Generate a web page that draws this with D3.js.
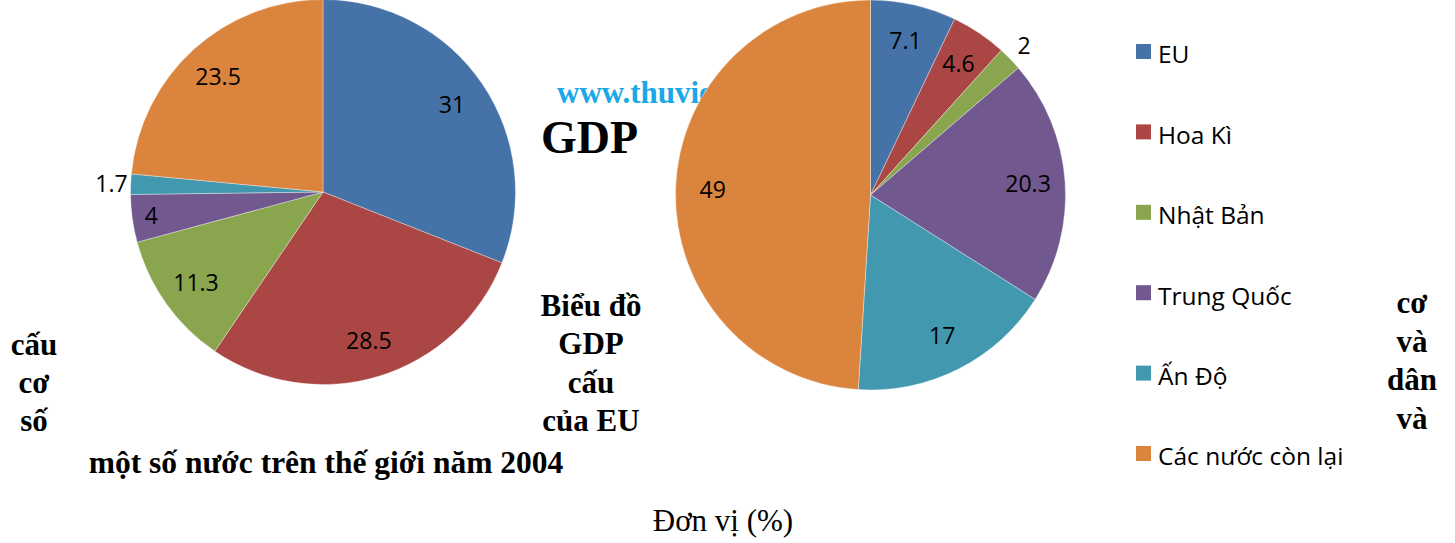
<!DOCTYPE html>
<html>
<head>
<meta charset="utf-8">
<script src="https://cdn.jsdelivr.net/npm/d3@7"></script>
<style>
  body { margin: 0; background: #fff; }
  svg { display: block; }
</style>
</head>
<body>
<script>
let w = 1455;
let h = 543;

// data
let categories = ['EU', 'Hoa Kì', 'Nhật Bản', 'Trung Quốc', 'Ấn Độ', 'Các nước còn lại'];
let gdpValues = [31, 28.5, 11.3, 4, 1.7, 23.5];
let popValues = [7.1, 4.6, 2, 20.3, 17, 49];
let colors = ['#4572A7', '#AA4643', '#89A54E', '#71588F', '#4198AF', '#DB843D'];

let watermark = 'www.thuvienhoclieu.com';
let bigTitle = 'GDP';
let leftTitle = ['cấu', 'cơ', 'số'];
let midTitle = ['Biểu đồ', 'GDP', 'cấu', 'của EU'];
let rightTitle = ['cơ', 'và', 'dân', 'và'];
let subTitle = 'một số nước trên thế giới năm 2004';
let unitText = 'Đơn vị (%)';

let serif = '"Liberation Serif", "Times New Roman", serif';
let sans = '"Open Sans", "Noto Sans", sans-serif';

let color = d3.scaleOrdinal()
  .domain(categories)
  .range(colors);

let svg = d3.select('body')
  .append('svg')
  .attr('width', w)
  .attr('height', h);

// text that sits behind the pies
svg.append('text')
  .attr('x', 557)
  .attr('y', 103)
  .attr('font-family', serif)
  .attr('font-weight', 'bold')
  .attr('font-size', 31)
  .attr('fill', '#1aa8e8')
  .text(watermark);

svg.append('text')
  .attr('x', 541)
  .attr('y', 153)
  .attr('font-family', serif)
  .attr('font-weight', 'bold')
  .attr('font-size', 46)
  .attr('fill', '#000')
  .text(bigTitle);

let pie = d3.pie()
  .sort(null)
  .value((d) => { return d; });

function drawPie(values, cx, cy, r) {
  let arc = d3.arc().innerRadius(0).outerRadius(r);
  let g = svg.append('g')
    .attr('transform', 'translate(' + cx + ', ' + cy + ')');

  let arcs = pie(values);

  g.selectAll('path')
    .data(arcs)
    .enter()
    .append('path')
    .attr('d', arc)
    .attr('fill', (d, i) => { return color(categories[i]); })
    .attr('stroke', '#fff')
    .attr('stroke-opacity', 0.6)
    .attr('stroke-width', 0.6);

  // small slices get their label outside, like Excel best fit
  let labelArc = (d) => {
    let k = d.data < 3 ? 1.1 : (d.data <= 4 ? 0.9 : 0.81);
    return d3.arc().innerRadius(r * k).outerRadius(r * k).centroid(d);
  };

  g.selectAll('text')
    .data(arcs)
    .enter()
    .append('text')
    .attr('x', (d) => { return labelArc(d)[0]; })
    .attr('y', (d) => { return labelArc(d)[1]; })
    .attr('dy', '0.36em')
    .attr('text-anchor', 'middle')
    .attr('font-family', sans)
    .attr('font-size', 23)
    .attr('fill', '#000')
    .text((d) => { return d.data; });
}

drawPie(gdpValues, 323, 192, 192.5);
drawPie(popValues, 870.5, 195, 195);

// legend
let legendY = d3.scalePoint()
  .domain(categories)
  .range([51.5, 453.5]);

let legend = svg.append('g')
  .selectAll('g')
  .data(categories)
  .enter()
  .append('g')
  .attr('transform', (d) => { return 'translate(1136, ' + legendY(d) + ')'; });

legend.append('rect')
  .attr('x', 0)
  .attr('y', -7.5)
  .attr('width', 15)
  .attr('height', 15)
  .attr('fill', (d) => { return color(d); });

legend.append('text')
  .attr('x', 22)
  .attr('y', 3)
  .attr('dy', '0.36em')
  .attr('font-family', sans)
  .attr('font-size', 24.5)
  .attr('fill', '#000')
  .text((d) => { return d; });

// stacked title fragments
function column(lines, cx, y0, step) {
  svg.append('g')
    .selectAll('text')
    .data(lines)
    .enter()
    .append('text')
    .attr('x', cx)
    .attr('y', (d, i) => { return y0 + i * step; })
    .attr('text-anchor', 'middle')
    .attr('font-family', serif)
    .attr('font-weight', 'bold')
    .attr('font-size', 31)
    .attr('fill', '#000')
    .text((d) => { return d; });
}

column(leftTitle, 34, 355, 38);
column(midTitle, 591, 316, 38.3);
column(rightTitle, 1412, 313, 38.5);

svg.append('text')
  .attr('x', 326)
  .attr('y', 473)
  .attr('text-anchor', 'middle')
  .attr('font-family', serif)
  .attr('font-weight', 'bold')
  .attr('font-size', 31.5)
  .attr('fill', '#000')
  .text(subTitle);

svg.append('text')
  .attr('x', 723)
  .attr('y', 531)
  .attr('text-anchor', 'middle')
  .attr('font-family', serif)
  .attr('font-size', 31)
  .attr('fill', '#000')
  .text(unitText);
</script>
</body>
</html>
